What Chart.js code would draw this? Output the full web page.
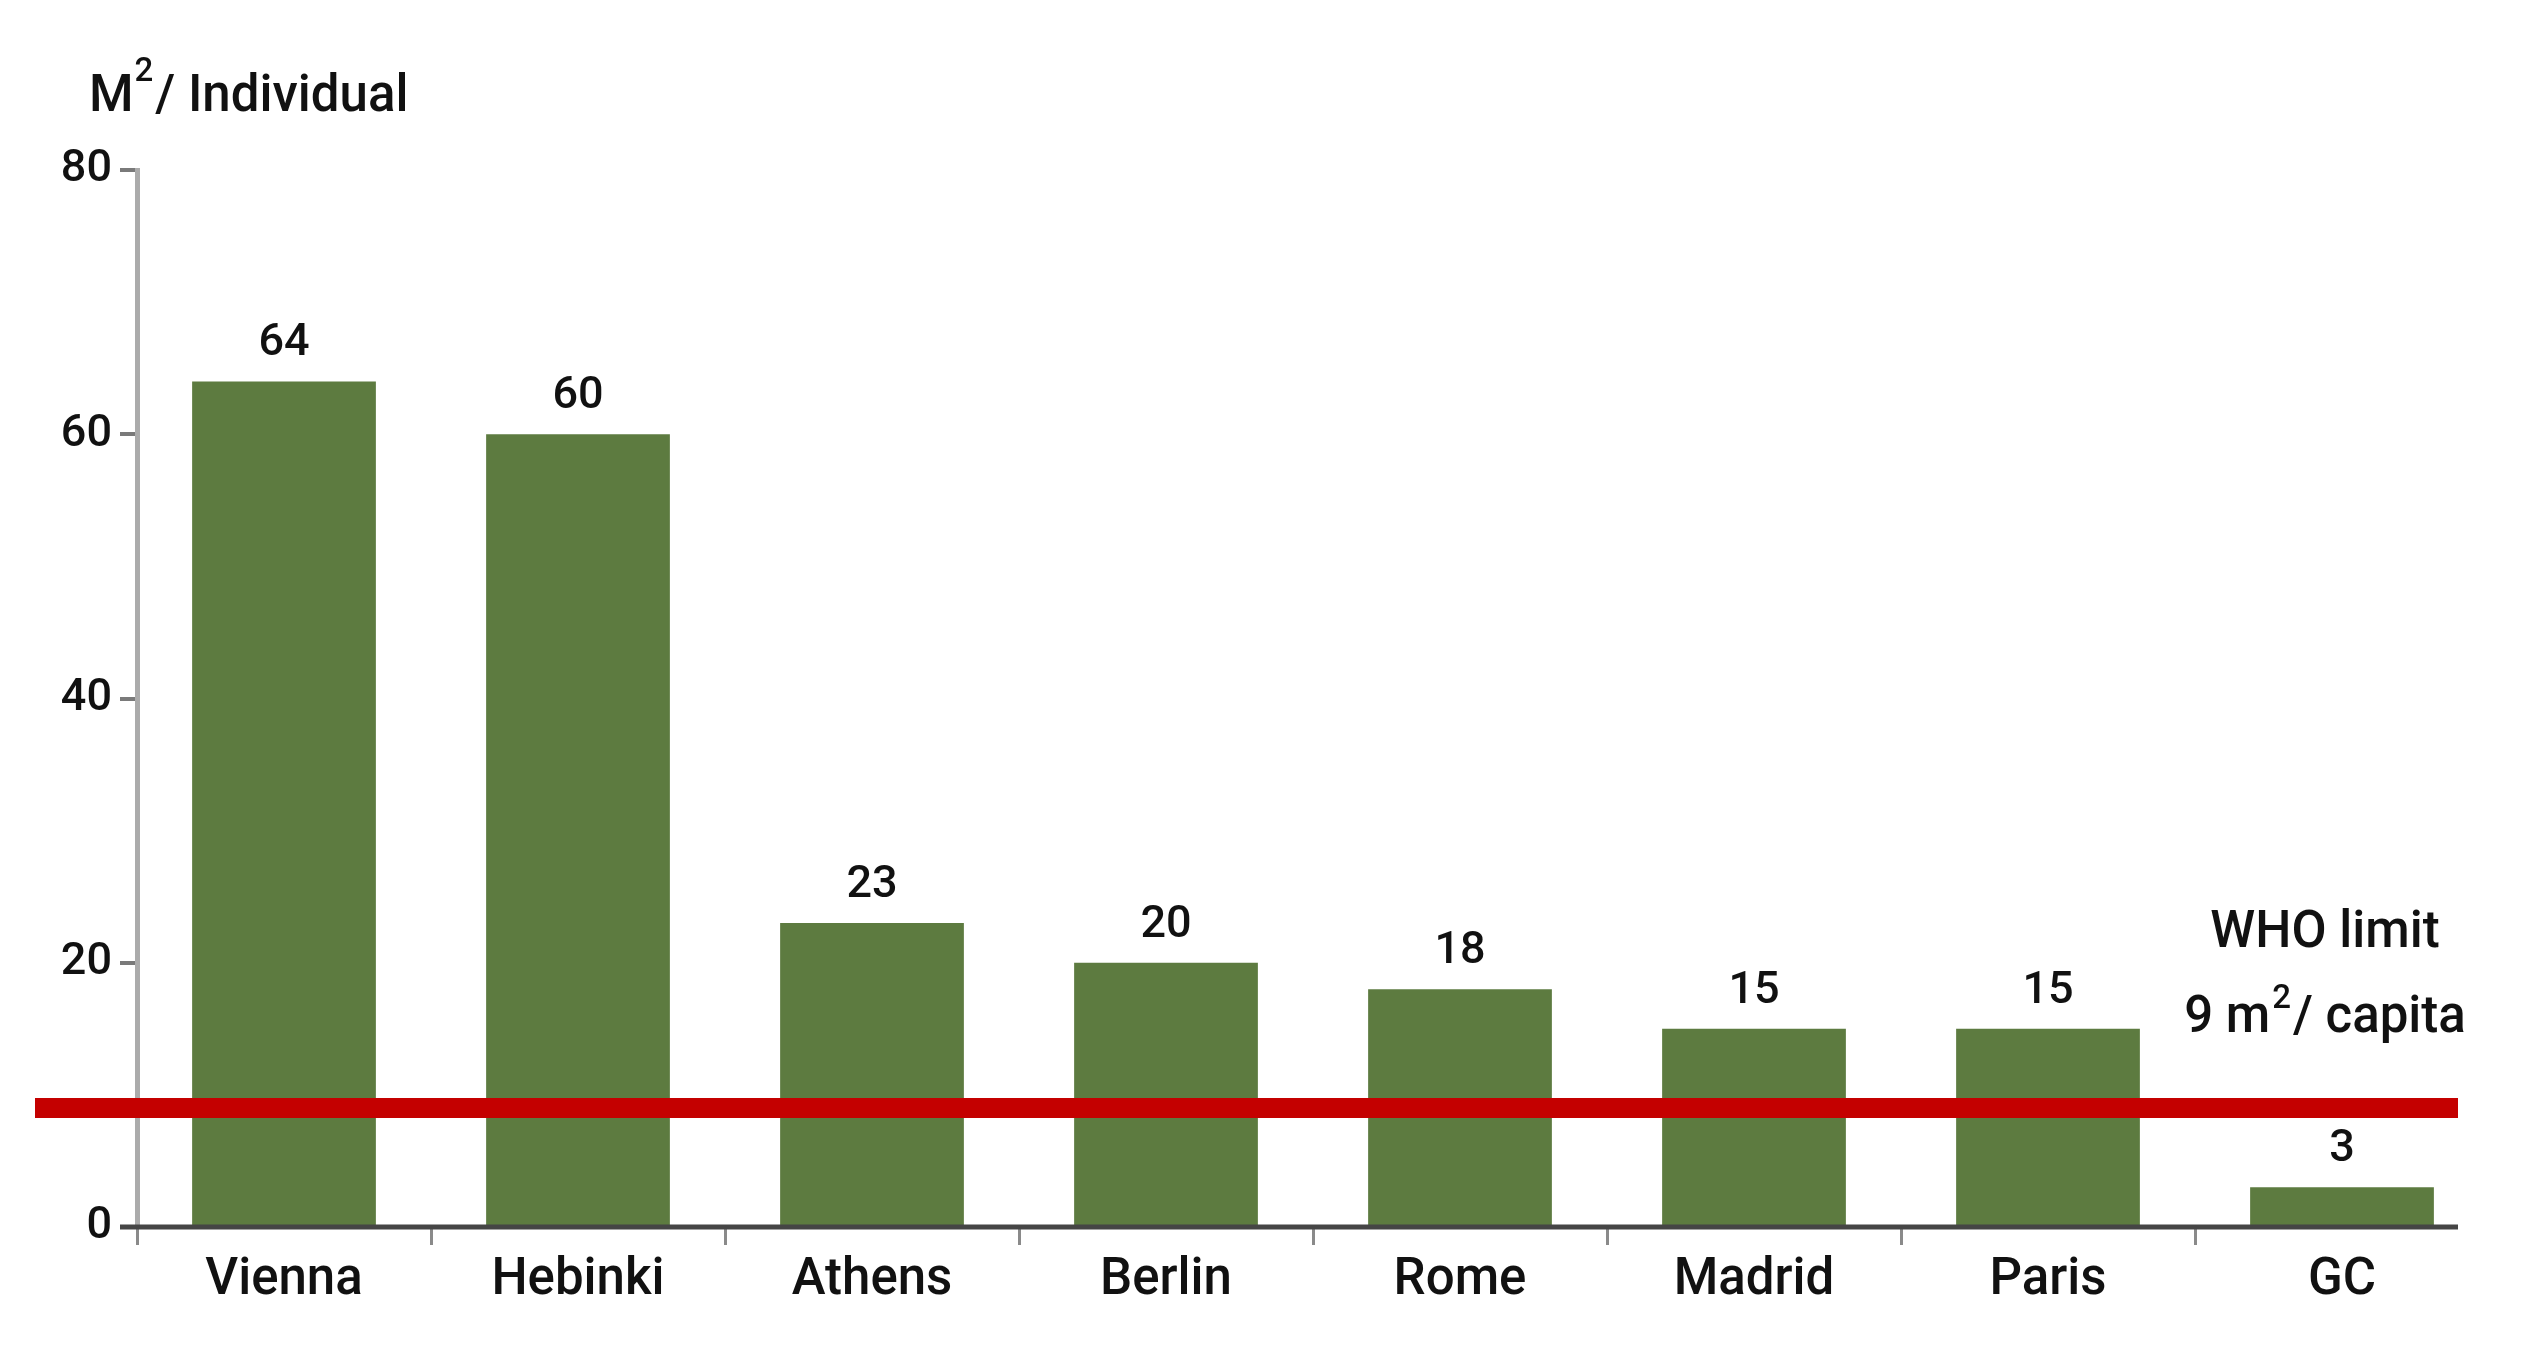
<!DOCTYPE html>
<html>
<head>
<meta charset="utf-8">
<script src="https://cdn.jsdelivr.net/npm/chart.js@4/dist/chart.umd.min.js"></script>
<style>
  html, body { margin: 0; padding: 0; background: #ffffff; }
  #wrap { width: 2525px; height: 1358px; position: relative; }
</style>
</head>
<body>
<div id="wrap"><canvas id="c" width="2525" height="1358"></canvas></div>
<script>
// ---- data ----
const categories = ['Vienna', 'Hebinki', 'Athens', 'Berlin', 'Rome', 'Madrid', 'Paris', 'GC'];
const greenSpace = [64, 60, 23, 20, 18, 15, 15, 3];
const yTicks = [0, 20, 40, 60, 80];
const whoLimit = 9;
const yTitleMain = 'M';
const yTitleSup = '2';
const yTitleRest = '/ Individual';
const whoLine1 = 'WHO limit';
const whoLine2Main = '9 m';
const whoLine2Sup = '2';
const whoLine2Rest = '/ capita';

const FONT = 'Roboto, "Liberation Sans", Arial, sans-serif';
const W = '500 ';
const TEXT = '#111111';

const overlayPlugin = {
  id: 'overlay',
  afterDatasetsDraw(chart) {
    const ctx = chart.ctx;
    const area = chart.chartArea;
    const y = chart.scales.y;
    ctx.save();

    // x axis line
    ctx.strokeStyle = '#454545';
    ctx.lineWidth = 5;
    ctx.beginPath();
    ctx.moveTo(area.left - 17, area.bottom);
    ctx.lineTo(area.right - 31, area.bottom);
    ctx.stroke();

    // value labels
    const meta = chart.getDatasetMeta(0);
    ctx.fillStyle = TEXT;
    ctx.font = W + '45px ' + FONT;
    ctx.textAlign = 'center';
    ctx.textBaseline = 'alphabetic';
    meta.data.forEach((bar, i) => {
      ctx.fillText(String(greenSpace[i]), bar.x, bar.y - 26);
    });

    // WHO limit line
    const yLim = y.getPixelForValue(whoLimit);
    ctx.strokeStyle = '#c40000';
    ctx.lineWidth = 20;
    ctx.beginPath();
    ctx.moveTo(area.left - 102, yLim);
    ctx.lineTo(area.right - 31, yLim);
    ctx.stroke();

    // WHO annotation
    const mainF = W + '51px ' + FONT, supF = W + '33px ' + FONT;
    ctx.font = mainF;
    ctx.textAlign = 'center';
    const cx = area.right - 164;
    ctx.fillText(whoLine1, cx, yLim - 161);
    ctx.font = mainF; const w1 = ctx.measureText(whoLine2Main).width;
    const w3 = ctx.measureText(whoLine2Rest).width;
    ctx.font = supF; const w2 = ctx.measureText(whoLine2Sup).width;
    let sx = cx - (w1 + w2 + w3 + 4) / 2;
    const base2 = yLim - 76;
    ctx.textAlign = 'left';
    ctx.font = mainF; ctx.fillText(whoLine2Main, sx, base2); sx += w1 + 2;
    ctx.font = supF; ctx.fillText(whoLine2Sup, sx, base2 - 24); sx += w2 + 2;
    ctx.font = mainF; ctx.fillText(whoLine2Rest, sx, base2);

    // axis title
    let tx = 89;
    const tb = 111;
    ctx.font = W + '51px ' + FONT; ctx.fillText(yTitleMain, tx, tb); tx += ctx.measureText(yTitleMain).width + 1;
    ctx.font = W + '33px ' + FONT; ctx.fillText(yTitleSup, tx, tb - 30); tx += ctx.measureText(yTitleSup).width + 2;
    ctx.font = W + '51px ' + FONT; ctx.fillText(yTitleRest, tx, tb);

    ctx.restore();
  }
};

new Chart(document.getElementById('c'), {
  type: 'bar',
  data: {
    labels: categories,
    datasets: [{
      data: greenSpace,
      backgroundColor: '#5d7b40',
      borderWidth: 0,
      barPercentage: 0.625,
      categoryPercentage: 1.0
    }]
  },
  options: {
    responsive: false,
    devicePixelRatio: 1,
    animation: false,
    layout: { padding: { top: 170, right: 36, left: 0, bottom: 0 } },
    plugins: { legend: { display: false }, tooltip: { enabled: false }, title: { display: false } },
    scales: {
      x: {
        offset: true,
        afterFit(s) { s.height = 131; },
        border: { display: false },
        grid: {
          drawOnChartArea: false,
          drawTicks: true,
          tickLength: 18,
          lineWidth: 3,
          color: (c) => (c.tick ? '#8a8a8a' : 'rgba(0,0,0,0)')
        },
        ticks: { color: TEXT, font: { family: FONT, size: 51, weight: 500 }, padding: 6 }
      },
      y: {
        min: 0,
        max: 80,
        afterFit(s) { s.width = 137; },
        afterBuildTicks(s) { s.ticks = yTicks.map(v => ({ value: v })); },
        border: { display: true, color: '#ababab', width: 5 },
        grid: { drawOnChartArea: false, drawTicks: true, tickLength: 17, lineWidth: 4, color: '#7a7a7a' },
        ticks: { color: TEXT, font: { family: FONT, size: 45, weight: 500 }, padding: 8 }
      }
    }
  },
  plugins: [overlayPlugin]
});
</script>
</body>
</html>
